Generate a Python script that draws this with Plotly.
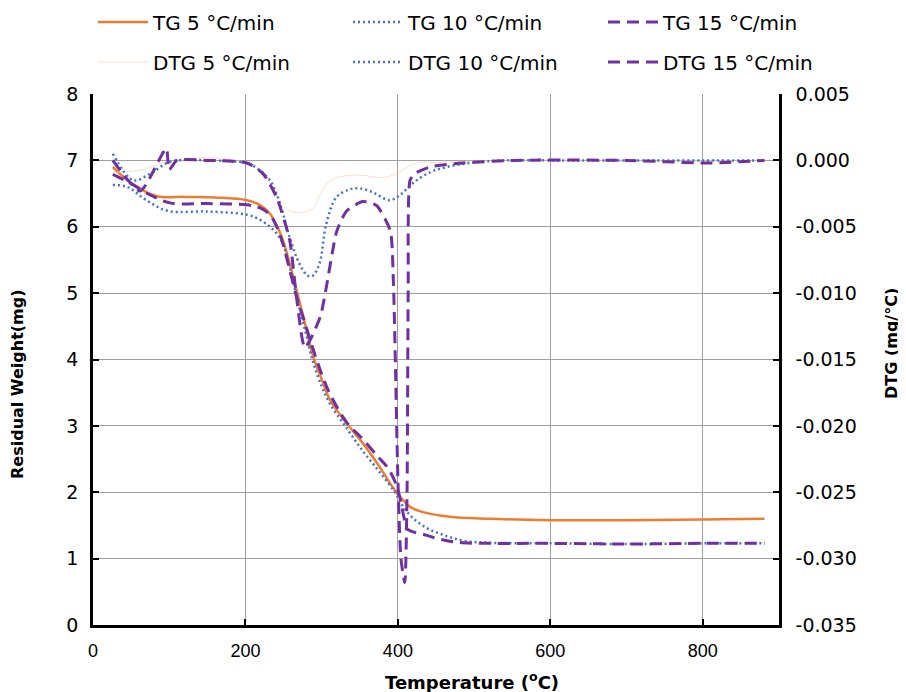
import plotly.graph_objects as go

# ---- data ----
tg5_t = [26, 50, 84, 120, 160, 202, 220, 232, 241, 249, 258, 267, 278, 289, 300, 311, 332, 354, 375, 396, 416, 433, 468, 520, 600, 700, 800, 881]
tg5_w = [6.90, 6.66, 6.46, 6.45, 6.44, 6.40, 6.32, 6.20, 6.02, 5.80, 5.45, 5.05, 4.55, 4.04, 3.70, 3.39, 3.05, 2.74, 2.40, 2.03, 1.78, 1.70, 1.63, 1.60, 1.58, 1.58, 1.59, 1.60]

tg10_t = [26, 45, 70, 98, 150, 202, 220, 232, 241, 249, 258, 267, 278, 289, 300, 311, 332, 354, 375, 396, 407, 420, 438, 459, 485, 520, 600, 700, 800, 881]
tg10_w = [6.63, 6.60, 6.40, 6.24, 6.23, 6.18, 6.10, 6.00, 5.90, 5.75, 5.40, 4.95, 4.45, 3.95, 3.60, 3.33, 2.98, 2.62, 2.32, 2.00, 1.78, 1.61, 1.46, 1.36, 1.27, 1.24, 1.23, 1.22, 1.23, 1.23]

tg15_t = [26, 50, 75, 101, 150, 202, 220, 232, 241, 249, 258, 267, 278, 289, 300, 311, 333, 354, 375, 386, 397, 403, 408, 412, 435, 460, 485, 520, 600, 700, 800, 881]
tg15_w = [6.79, 6.65, 6.48, 6.36, 6.35, 6.33, 6.28, 6.18, 6.00, 5.75, 5.35, 4.95, 4.55, 4.15, 3.78, 3.48, 3.05, 2.80, 2.52, 2.38, 2.14, 1.90, 1.62, 1.45, 1.36, 1.28, 1.24, 1.23, 1.23, 1.22, 1.23, 1.23]

dtg5_t = [26, 60, 95, 143, 202, 223, 241, 258, 276, 289, 302, 315, 346, 381, 398, 424, 455, 520, 600, 700, 800, 881]
dtg5_v = [-0.0009, -0.00075, -0.00015, 0.0002, -0.00015, -0.0008, -0.0026, -0.0038, -0.0039, -0.0036, -0.0021, -0.0014, -0.0011, -0.0013, -0.0010, -0.0002, -0.00015, 0.0, 0.0, 0.0, 0.0, 0.0]

dtg10_t = [26, 53, 75, 97, 110, 150, 202, 215, 232, 245, 258, 271, 282, 288, 297, 306, 319, 336, 349, 367, 389, 403, 420, 442, 464, 494, 540, 600, 700, 800, 881]
dtg10_v = [0.0005, -0.0015, -0.0010, -0.0002, 0.0, 0.0, -0.0002, -0.0006, -0.0015, -0.0032, -0.0058, -0.0078, -0.0087, -0.0087, -0.0078, -0.0048, -0.0028, -0.0022, -0.0021, -0.0024, -0.0030, -0.0026, -0.0017, -0.0009, -0.0005, -0.0002, 0.0, 0.0, 0.0, 0.0, 0.0]

dtg15_t = [26, 62, 96, 100, 110, 150, 202, 223, 241, 258, 267, 278, 298, 320, 333, 354, 372, 390, 394, 397, 400, 404, 409, 412, 413.5, 416, 422, 442, 485, 551, 700, 805, 881]
dtg15_v = [0.0, -0.0023, 0.0009, -0.0007, 0.0, 0.0, -0.0002, -0.0010, -0.0028, -0.0060, -0.0103, -0.0141, -0.0118, -0.0053, -0.0038, -0.0031, -0.0034, -0.0053, -0.0090, -0.0160, -0.0240, -0.0300, -0.0318, -0.0250, -0.0100, -0.0015, -0.0010, -0.0005, -0.0002, 0.0, 0.0, -0.0002, 0.0]

x_ticks = [0, 200, 400, 600, 800]
y_ticks = [0, 1, 2, 3, 4, 5, 6, 7, 8]
y2_ticks = [0.005, 0.0, -0.005, -0.010, -0.015, -0.020, -0.025, -0.030, -0.035]

ORANGE = "#ED7D31"
BLUE = "#4472C4"
PURPLE = "#7030A0"
PEACH = "#F8CBAD"

FONT = "DejaVu Sans, Verdana, sans-serif"
XFONT = "Liberation Sans, Arial, sans-serif"

fig = go.Figure()

fig.add_trace(go.Scatter(x=tg5_t, y=tg5_w, name="TG 5 °C/min", mode="lines",
                         line=dict(color=ORANGE, width=2.5, shape="spline"), legend="legend"))
fig.add_trace(go.Scatter(x=tg10_t, y=tg10_w, name="TG 10 °C/min", mode="lines",
                         line=dict(color=BLUE, width=2.5, dash="2px,3px", shape="spline"), legend="legend2"))
fig.add_trace(go.Scatter(x=tg15_t, y=tg15_w, name="TG 15 °C/min", mode="lines",
                         line=dict(color=PURPLE, width=3, dash="12px,7px", shape="spline"), legend="legend3"))

fig.add_trace(go.Scatter(x=dtg5_t, y=dtg5_v, name="DTG 5 °C/min", mode="lines", yaxis="y2",
                         line=dict(color=PEACH, width=1, shape="spline"), opacity=0.6, legend="legend4"))
fig.add_trace(go.Scatter(x=dtg10_t, y=dtg10_v, name="DTG 10 °C/min", mode="lines", yaxis="y2",
                         line=dict(color=BLUE, width=2.5, dash="2px,3px", shape="spline"), legend="legend5"))
fig.add_trace(go.Scatter(x=dtg15_t, y=dtg15_v, name="DTG 15 °C/min", mode="lines", yaxis="y2",
                         line=dict(color=PURPLE, width=3, dash="12px,7px", shape="spline", smoothing=0.6), legend="legend6"))

# page body has an 8px margin: work in screen coordinates and shift into figure coordinates
OFF = 8
W, H = 906 - OFF, 692 - OFF
L, R, T, B = 93 - OFF, 127, 94 - OFF, 67
PW, PH = W - L - R, H - T - B


def sx(px):
    return (px - OFF - L) / PW


def sy(py):
    return (H - B - (py - OFF)) / PH


def leg(px, py):
    return dict(orientation="h", xref="container", yref="container", xanchor="left", yanchor="middle",
                x=(px - OFF) / W, y=1 - (py - OFF) / H, itemwidth=50,
                font=dict(family=FONT, size=20, color="black"), bgcolor="rgba(0,0,0,0)", borderwidth=0)


col_x = [93, 348, 603]
row_y = [22, 62]

fig.update_layout(
    width=W, height=H,
    paper_bgcolor="white", plot_bgcolor="white",
    margin=dict(l=L, r=R, t=T, b=B, autoexpand=False),
    showlegend=True,
    legend=leg(col_x[0], row_y[0]),
    legend2=leg(col_x[1], row_y[0]),
    legend3=leg(col_x[2], row_y[0]),
    legend4=leg(col_x[0], row_y[1]),
    legend5=leg(col_x[1], row_y[1]),
    legend6=leg(col_x[2], row_y[1]),
    xaxis=dict(range=[0, 900], tickvals=x_ticks, ticktext=[str(v) for v in x_ticks],
               showgrid=True, gridcolor="#A0A0A0", gridwidth=1, zeroline=False,
               showline=True, linecolor="black", linewidth=2.5, mirror=False,
               ticks="inside", ticklen=6, tickwidth=2, tickcolor="black",
               tickfont=dict(family=XFONT, size=18, color="black"), ticklabelstandoff=8),
    yaxis=dict(range=[0, 8], tickvals=y_ticks,
               showgrid=True, gridcolor="#A0A0A0", gridwidth=1, zeroline=False,
               showline=True, linecolor="black", linewidth=2.5,
               ticks="inside", ticklen=6, tickwidth=2, tickcolor="black",
               tickfont=dict(family=FONT, size=19, color="black"), ticklabelstandoff=8),
    yaxis2=dict(range=[-0.035, 0.005], tickvals=y2_ticks, ticktext=[f"{v:.3f}" for v in y2_ticks],
                overlaying="y", side="right", showgrid=False, zeroline=False,
                showline=True, linecolor="black", linewidth=2.5,
                ticks="inside", ticklen=6, tickwidth=2, tickcolor="black",
                tickfont=dict(family=FONT, size=19, color="black"), ticklabelstandoff=10),
    annotations=[
        dict(text="<b>Temperature (<sup>o</sup>C)</b>", xref="paper", yref="paper",
             x=sx(472), y=sy(681), xanchor="center", yanchor="middle", showarrow=False,
             font=dict(family=FONT, size=18, color="black")),
        dict(text="<b>Residual Weight(mg)</b>", xref="paper", yref="paper",
             x=sx(18), y=sy(384), xanchor="center", yanchor="middle", textangle=-90,
             showarrow=False, font=dict(family=FONT, size=16, color="black")),
        dict(text="<b>DTG (mg/°C)</b>", xref="paper", yref="paper",
             x=sx(891), y=sy(344), xanchor="center", yanchor="middle", textangle=-90,
             showarrow=False, font=dict(family=FONT, size=16, color="black")),
    ],
)

fig.write_html("out.html")
